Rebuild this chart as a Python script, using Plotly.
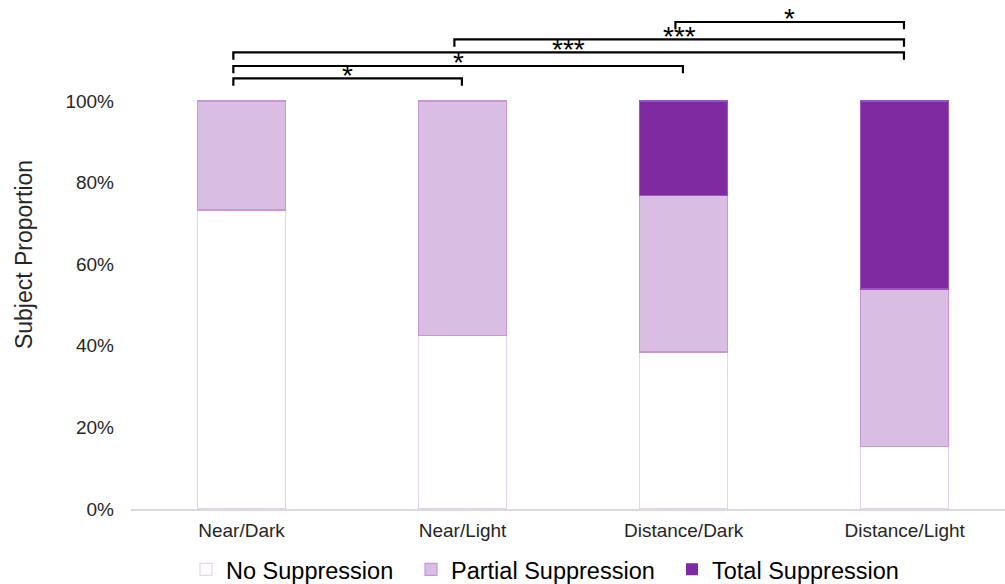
import plotly.graph_objects as go

categories = ["Near/Dark", "Near/Light", "Distance/Dark", "Distance/Light"]
no_supp = [0.733, 0.425, 0.385, 0.154]
partial_supp = [0.267, 0.575, 0.384, 0.385]
total_supp = [0.0, 0.0, 0.231, 0.461]
y_ticks = [0, 0.2, 0.4, 0.6, 0.8, 1.0]

# significance comparisons: (from index, to index, bracket height, label)
comp_from = [0, 0, 0, 1, 2]
comp_to = [1, 2, 3, 3, 3]
comp_height = [1.0556, 1.0858, 1.1193, 1.1512, 1.1936]
comp_label = ["*", "*", "***", "***", "*"]

x = list(range(len(categories)))


def edge_widths(vals, w=1.2):
    return [w if v > 0 else 0 for v in vals]


fig = go.Figure()
fig.add_trace(go.Bar(x=x, y=no_supp, name="No Suppression", width=0.4, legend="legend",
                     marker=dict(color="#FFFFFF",
                                 line=dict(color="#E6D2EF", width=edge_widths(no_supp)))))
fig.add_trace(go.Bar(x=x, y=partial_supp, name="Partial Suppression", width=0.4, legend="legend2",
                     marker=dict(color="#D9BDE2",
                                 line=dict(color="#C797D6", width=edge_widths(partial_supp)))))
fig.add_trace(go.Bar(x=x, y=total_supp, name="Total Suppression", width=0.4, legend="legend3",
                     marker=dict(color="#7F2AA0",
                                 line=dict(color="#9C55BC", width=edge_widths(total_supp)))))

leg = 0.018
for a, b, h, lab in zip(comp_from, comp_to, comp_height, comp_label):
    x0 = a - 0.037
    x1 = b - 0.003
    fig.add_shape(type="path",
                  path=f"M {x0},{h-leg} L {x0},{h} L {x1},{h} L {x1},{h-leg}",
                  xref="x", yref="y", line=dict(color="#000000", width=2.2))
    fig.add_annotation(x=(x0 + x1) / 2, y=h, xref="x", yref="y", text=lab,
                       showarrow=False, yanchor="middle", yshift=3,
                       font=dict(family="Liberation Sans, Arial", size=28, color="#000000"))

leg_font = dict(size=23.5, color="#000000")
common = dict(orientation="h", yanchor="middle", y=-0.119, xanchor="left",
              font=leg_font, itemwidth=30, bgcolor="rgba(0,0,0,0)")

fig.update_layout(
    barmode="stack",
    width=1005, height=584,
    margin=dict(l=131, r=0, t=0, b=75, autoexpand=False),
    plot_bgcolor="#FFFFFF", paper_bgcolor="#FFFFFF",
    font=dict(family="Liberation Sans, Arial", color="#262626"),
    showlegend=True,
    legend=dict(x=(186 - 131) / 874, **common),
    legend2=dict(x=(411 - 131) / 874, **common),
    legend3=dict(x=(672 - 131) / 874, **common),
    xaxis=dict(range=[-0.5, 3.454], tickvals=x, ticktext=categories,
               showgrid=False, zeroline=False, showline=True, linecolor="#D9D9D9",
               linewidth=1.5, ticks="", ticklabelstandoff=3,
               tickfont=dict(size=19, color="#262626")),
    yaxis=dict(range=[0, 1.2475], tickvals=y_ticks, tickformat=".0%",
               showgrid=False, zeroline=False, showline=False, ticks="",
               ticklabelstandoff=16, tickfont=dict(size=19, color="#262626"),
               title=dict(text="Subject Proportion", font=dict(size=23, color="#262626"),
                          standoff=26)),
)

fig.write_html("out.html")
